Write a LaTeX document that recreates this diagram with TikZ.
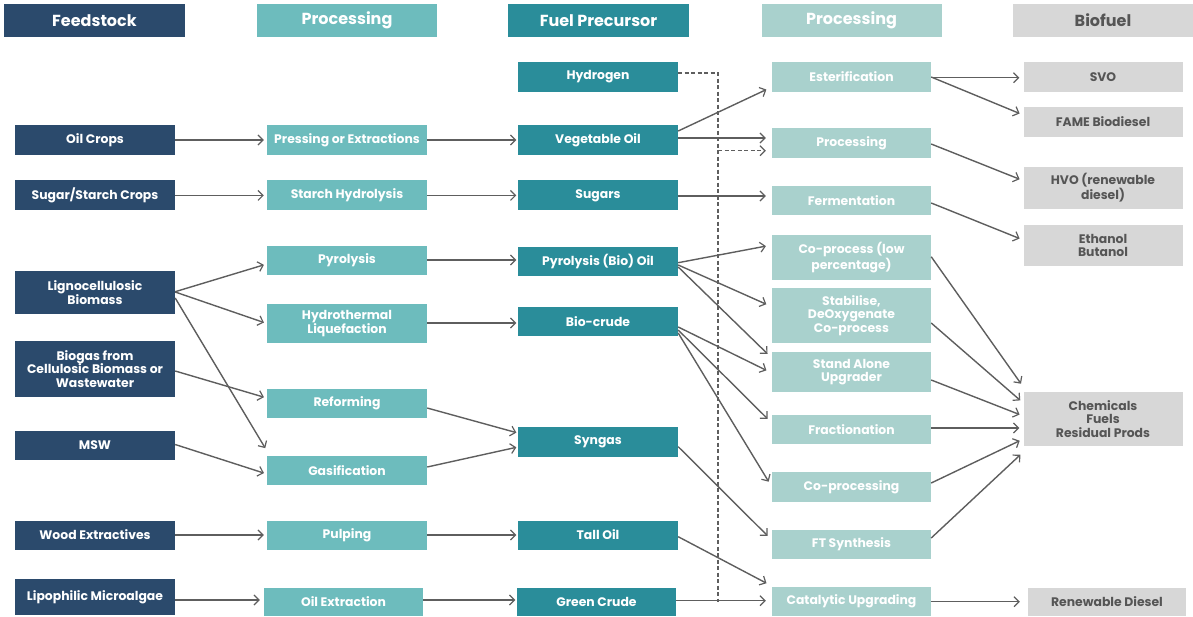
\documentclass[tikz,border=0pt]{standalone}
\usepackage{fontspec}
\setmainfont{Poppins}
\usetikzlibrary{arrows.meta}
\definecolor{navy}{HTML}{2B4A6C}
\definecolor{tealA}{HTML}{6DBCBD}
\definecolor{tealB}{HTML}{2A8D9A}
\definecolor{tealC}{HTML}{A9D1CD}
\definecolor{greyD}{HTML}{D7D7D7}
\definecolor{greyT}{HTML}{555555}
\definecolor{lineC}{HTML}{5E5E5E}
\tikzset{
  box/.style={inner sep=0pt, align=center, font=\fontsize{12.4}{13.6}\selectfont\bfseries},
  c1/.style={box, fill=navy, text=white, minimum width=160pt},
  c2/.style={box, fill=tealA, text=white, minimum width=160pt},
  c3/.style={box, fill=tealB, text=white, minimum width=160pt},
  c4/.style={box, fill=tealC, text=white, minimum width=159pt},
  c5/.style={box, fill=greyD, text=greyT, minimum width=159pt},
  hd/.style={inner sep=0pt, minimum height=33pt, font=\fontsize{16}{18}\selectfont\bfseries},
  arr/.style={draw=lineC, line width=1.4pt, -{Straight Barb[length=5pt,width=10pt,line width=1.2pt]}},
  a2/.style={arr, shorten >=3pt},
  a3/.style={arr, shorten >=1.5pt},
  a4/.style={arr, shorten >=6pt},
  a5/.style={arr, shorten >=4pt},
  dsh/.style={draw=lineC, line width=1.4pt, dash pattern=on 4pt off 2.5pt}
}
\begin{document}
\begin{tikzpicture}[x=1pt, y=-1pt]
\useasboundingbox (0,0) rectangle (1193,616);
% headers
\node[hd, fill=navy, text=white, minimum width=181pt] (h1) at (94.5,20.5) {Feedstock};
\node[hd, fill=tealA, text=white, minimum width=180pt] (h2) at (347,20.5) {Processing};
\node[hd, fill=tealB, text=white, minimum width=181pt] (h3) at (598.5,20.3) {Fuel Precursor};
\node[hd, fill=tealC, text=white, minimum width=180pt] (h4) at (851.5,20.5) {Processing};
\node[hd, fill=greyD, text=greyT, minimum width=180pt] (h5) at (1103,20.5) {Biofuel};
% column 1
\node[c1, minimum height=30pt] (oil) at (95,140) {Oil Crops};
\node[c1, minimum height=30pt] (sugar) at (95,195.4) {Sugar/Starch Crops};
\node[c1, minimum height=43pt] (ligno) at (95,292.7) {Lignocellulosic\\Biomass};
\node[c1, minimum height=56pt] (biogas) at (95,369) {Biogas from\\Cellulosic Biomass or\\Wastewater};
\node[c1, minimum height=29pt] (msw) at (95,445) {MSW};
\node[c1, minimum height=29pt] (wood) at (95,535) {Wood Extractives};
\node[c1, minimum height=36pt] (lipo) at (95,597) {Lipophilic Microalgae};
% column 2
\node[c2, minimum height=30pt] (press) at (347,140) {Pressing or Extractions};
\node[c2, minimum height=30pt] (starch) at (347,195.4) {Starch Hydrolysis};
\node[c2, minimum height=29pt] (pyro) at (347,260) {Pyrolysis};
\node[c2, minimum height=39pt] (hydro) at (347,323.5) {Hydrothermal\\Liquefaction};
\node[c2, minimum height=29pt] (reform) at (347,403.7) {Reforming};
\node[c2, minimum height=29pt] (gasif) at (347,470.3) {Gasification};
\node[c2, minimum height=29pt] (pulp) at (347,535) {Pulping};
\node[c2, minimum height=28.5pt, minimum width=159pt] (oilext) at (343.5,602) {Oil Extraction};
% column 3
\node[c3, minimum height=30pt] (hyd) at (598,76.7) {Hydrogen};
\node[c3, minimum height=30pt] (veg) at (598,140) {Vegetable Oil};
\node[c3, minimum height=30pt] (sugars) at (598,195.4) {Sugars};
\node[c3, minimum height=29pt] (pyoil) at (598,261.5) {Pyrolysis (Bio) Oil};
\node[c3, minimum height=29pt] (biocrude) at (598,321.5) {Bio-crude};
\node[c3, minimum height=30pt] (syngas) at (598,442) {Syngas};
\node[c3, minimum height=29pt] (tall) at (598,535) {Tall Oil};
\node[c3, minimum height=28.5pt, minimum width=159pt] (green) at (596.5,602) {Green Crude};
% column 4
\node[c4, minimum height=30pt] (ester) at (851.5,76.7) {Esterification};
\node[c4, minimum height=30pt] (proc) at (851.5,143.3) {Processing};
\node[c4, minimum height=29pt] (ferm) at (851.5,200.5) {Fermentation};
\node[c4, minimum height=44.7pt] (coproc) at (851.5,257.7) {Co-process (low\\percentage)};
\node[c4, minimum height=54.7pt] (stab) at (851.5,315.3) {Stabilise,\\DeOxygenate\\Co-process};
\node[c4, minimum height=40.6pt] (stand) at (851.5,372) {Stand Alone\\Upgrader};
\node[c4, minimum height=29pt] (frac) at (851.5,429.5) {Fractionation};
\node[c4, minimum height=29.7pt] (coprocessing) at (851.5,486.8) {Co-processing};
\node[c4, minimum height=29pt] (ft) at (851.5,544.5) {FT Synthesis};
\node[c4, minimum height=29.3pt] (cat) at (851.5,601.3) {Catalytic Upgrading};
% column 5
\node[c5, minimum height=30pt] (svo) at (1103,76.7) {SVO};
\node[c5, minimum height=30pt] (fame) at (1103,121.7) {FAME Biodiesel};
\node[c5, minimum height=42.3pt] (hvo) at (1103,187.8) {HVO (renewable\\diesel)};
\node[c5, minimum height=41pt] (eth) at (1103,245.5) {Ethanol\\Butanol};
\node[c5, minimum height=54pt] (chem) at (1103,418.7) {Chemicals\\Fuels\\Residual Prods};
\node[c5, minimum height=28.5pt, minimum width=158pt] (rd) at (1107,602) {Renewable Diesel};
% column 1 -> 2
\draw[a2] (oil.east) -- (press.west);
\draw[a2] (sugar.east) -- (starch.west);
\draw[a2] ([yshift=1]ligno.east) -- ([yshift=-4]pyro.west);
\draw[a2] ([yshift=0.7]ligno.east) -- (hydro.west);
\draw[a2] ([yshift=-5.3]ligno.east) -- ([yshift=19.6]gasif.west);
\draw[a2] ([yshift=-2]biogas.east) -- ([yshift=5.7]reform.west);
\draw[a2] ([yshift=0.5]msw.east) -- ([yshift=-3.7]gasif.west);
\draw[a2] (wood.east) -- (pulp.west);
\draw[arr, shorten >=4pt] ([yshift=-3]lipo.east) -- ([yshift=2]oilext.west);
% column 2 -> 3
\draw[a3] (press.east) -- (veg.west);
\draw[a3] (starch.east) -- (sugars.west);
\draw[a3] (pyro.east) -- ([yshift=1.5]pyoil.west);
\draw[a3] ([yshift=0.5]hydro.east) -- ([yshift=-1.5]biocrude.west);
\draw[a3] ([yshift=-4.3]reform.east) -- ([yshift=9]syngas.west);
\draw[a3] ([yshift=3.3]gasif.east) -- ([yshift=-5]syngas.west);
\draw[a3] (pulp.east) -- (tall.west);
\draw[a3] ([yshift=2]oilext.east) -- ([yshift=2]green.west);
% hydrogen dashed
\coordinate (dtop) at (718,73);
\coordinate (dmid) at (718,150.7);
\coordinate (dbot) at (718,601.7);
\draw[dsh] ([yshift=3.7]hyd.east) -- (dtop) -- (dbot);
\draw[dsh, -{Straight Barb[length=5pt,width=10pt,line width=1.2pt]}, shorten >=6pt] (dmid) -- ([yshift=-7.4]proc.west);
% column 3 -> 4
\draw[a4] ([yshift=9]veg.east) -- ([yshift=-10.3]ester.west);
\draw[a4] ([yshift=2]veg.east) -- ([yshift=5.3]proc.west);
\draw[a4] ([yshift=-0.6]sugars.east) -- ([yshift=4.5]ferm.west);
\draw[a4] ([yshift=-1.2]pyoil.east) -- ([yshift=12.7]coproc.west);
\draw[a4] ([yshift=-3.5]pyoil.east) -- ([yshift=8.6]stab.west);
\draw[a4] ([yshift=-5.5]pyoil.east) -- ([yshift=14]stand.west);
\draw[a4] ([yshift=-5.5]biocrude.east) -- ([yshift=-1]stand.west);
\draw[a4] ([yshift=-8.5]biocrude.east) -- ([yshift=6.5]frac.west);
\draw[a4] ([yshift=-11.5]biocrude.east) -- (coprocessing.west);
\draw[a4] ([yshift=-4.7]syngas.east) -- ([yshift=4.5]ft.west);
\draw[a4] ([yshift=-1.7]tall.east) -- ([yshift=15.3]cat.west);
\draw[a4] ([yshift=1.3]green.east) -- ([yshift=0.6]cat.west);
% column 4 -> 5
\draw[a5] ([yshift=-1]ester.east) -- ([yshift=-1]svo.west);
\draw[a5] ([yshift=-0.3]ester.east) -- ([yshift=6.7]fame.west);
\draw[a5] ([yshift=-0.7]proc.east) -- ([yshift=7.1]hvo.west);
\draw[a5] ([yshift=-2.5]ferm.east) -- ([yshift=5.5]eth.west);
\draw[a5] ([yshift=1]coproc.east) -- ([yshift=31.7]chem.west);
\draw[a5] ([yshift=-7.7]stab.east) -- ([yshift=15.7]chem.west);
\draw[a5] ([yshift=-8]stand.east) -- ([yshift=2.7]chem.west);
\draw[a5] ([yshift=1.5]frac.east) -- ([yshift=-9.3]chem.west);
\draw[a5] ([yshift=3.8]coprocessing.east) -- ([yshift=-20.3]chem.west);
\draw[a5] ([yshift=6.5]ft.east) -- ([yshift=-33.3]chem.west);
\draw[arr, shorten >=8pt] ([yshift=-0.4]cat.east) -- ([yshift=0.3]rd.west);
\end{tikzpicture}
\end{document}
